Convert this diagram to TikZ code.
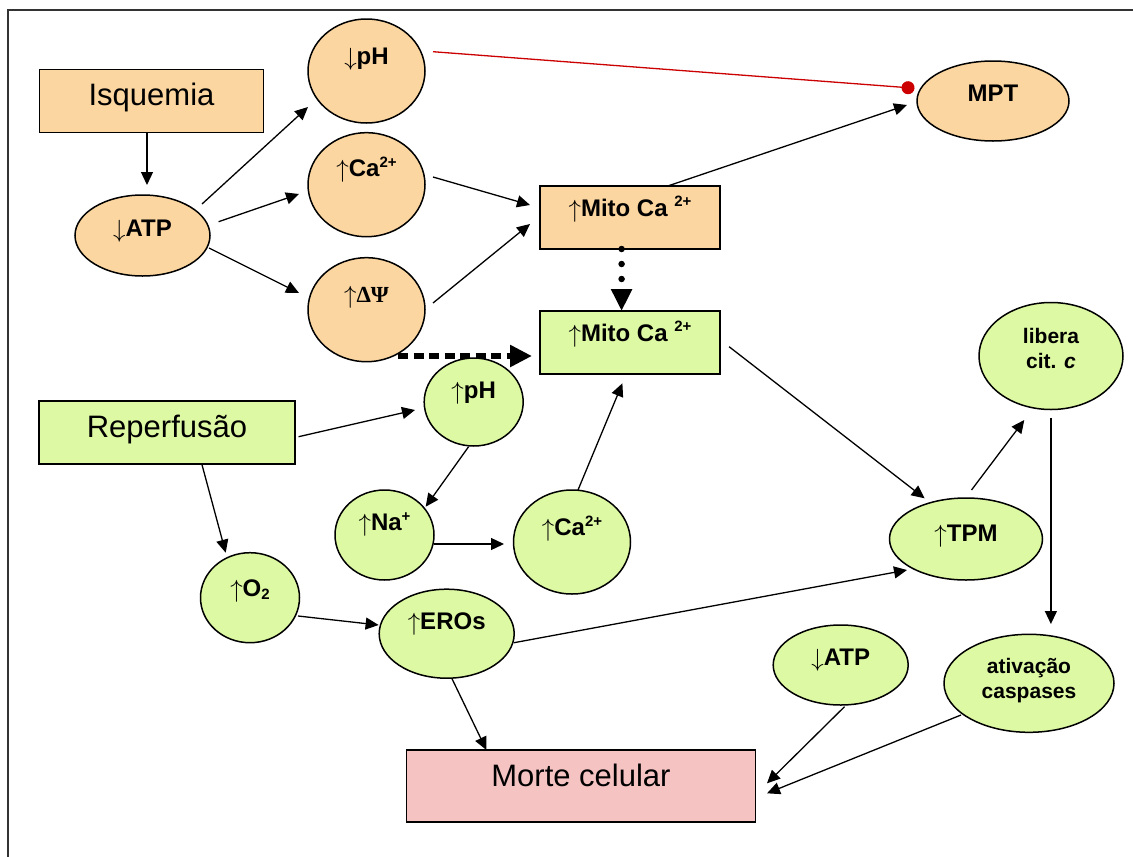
\documentclass[tikz,border=0pt]{standalone}
\usepackage{fontspec}
\setmainfont{Liberation Sans}
\newfontfamily\grfont{Liberation Serif}
\usetikzlibrary{shapes.geometric,arrows.meta,calc}
\definecolor{orng}{HTML}{FBD6A0}
\definecolor{lgreen}{HTML}{DDF9A3}
\definecolor{pinkc}{HTML}{F6C3C3}
\definecolor{redl}{HTML}{CC0000}
\newcommand\lft[2]{\raisebox{#1}[0pt][0pt]{#2}}
\newcommand\sups[1]{\raisebox{9pt}{\fontsize{15}{15}\selectfont #1}}
\newcommand\msups[1]{\raisebox{10pt}{\fontsize{15}{15}\selectfont #1}}
\newcommand\subs[1]{\raisebox{-3pt}{\fontsize{15}{15}\selectfont #1}}
\newcommand\ua{\raisebox{-1pt}{$\uparrow$}}
\newcommand\da{\raisebox{-1pt}{$\downarrow$}}
\begin{document}
\begin{tikzpicture}[x=1pt,y=-1pt,
  shp/.style={draw=black, line width=1.5pt, inner sep=0pt, text=black},
  rbox/.style={shp, rectangle, font=\fontsize{31}{36}\selectfont},
  bbox/.style={shp, rectangle, font=\bfseries\fontsize{24}{28}\selectfont},
  ell/.style={shp, ellipse, font=\bfseries\fontsize{24}{28}\selectfont},
  sml/.style={font=\bfseries\fontsize{21}{25}\selectfont},
  conn/.style={line width=1.3pt, -{Triangle[length=13pt,width=12pt]}},
]
\useasboundingbox (0,0) rectangle (1133,857);
\fill[white] (0,0) rectangle (1133,857);
\draw[line width=1.6pt, draw=black!80] (8,870) -- (8,10) -- (1145,10);

% nodes
\node[rbox, fill=orng, minimum width=224pt, minimum height=63pt] (isq) at (151.5,101) {\lft{-4pt}{Isquemia}};
\node[ell, fill=orng, minimum width=135pt, minimum height=81pt] (atpO) at (142.5,235.5) {\lft{-1pt}{\da ATP}};
\node[ell, fill=orng, minimum width=117pt, minimum height=104pt] (phO) at (366.5,71) {\lft{7pt}{\da pH}};
\node[ell, fill=orng, minimum width=117pt, minimum height=104pt] (caO) at (366.5,184.7) {\lft{8pt}{\ua Ca\sups{2+}}};
\node[ell, fill=orng, minimum width=117pt, minimum height=104pt] (dpsi) at (366.5,309.7) {\lft{7pt}{\ua{\grfont\bfseries\fontsize{23}{28}\selectfont ΔΨ}}};
\node[bbox, fill=orng, minimum width=180pt, minimum height=63pt] (mitoO) at (630,217.5) {\lft{1pt}{\ua Mito Ca \msups{2+}}};
\node[bbox, fill=lgreen, minimum width=180pt, minimum height=63pt] (mitoG) at (630,342.5) {\lft{1pt}{\ua Mito Ca \msups{2+}}};
\node[ell, fill=orng, minimum width=152pt, minimum height=80pt] (mpt) at (993,101) {\lft{0pt}{MPT}};
\node[rbox, fill=lgreen, minimum width=256pt, minimum height=63pt] (rep) at (167,432.4) {\lft{-5pt}{Reperfusão}};
\node[ell, fill=lgreen, minimum width=99pt, minimum height=88pt] (phG) at (473.7,402) {\lft{3.5pt}{\ua pH}};
\node[ell, fill=lgreen, minimum width=99pt, minimum height=90pt] (naG) at (384.5,535) {\lft{4.5pt}{\ua Na\sups{+}}};
\node[ell, fill=lgreen, minimum width=117pt, minimum height=104pt] (caG) at (572,542) {\lft{7pt}{\ua Ca\sups{2+}}};
\node[ell, fill=lgreen, minimum width=99pt, minimum height=90pt] (o2) at (250,597.7) {\lft{1pt}{\ua O\subs{2}}};
\node[ell, fill=lgreen, minimum width=135pt, minimum height=89pt] (eros) at (446.7,633.7) {\lft{4.5pt}{\ua EROs}};
\node[rbox, fill=pinkc, minimum width=349pt, minimum height=72pt] (morte) at (581,786) {\lft{0pt}{Morte celular}};
\node[ell, fill=lgreen, minimum width=153pt, minimum height=82pt] (tpm) at (966,539) {\lft{-2pt}{\ua TPM}};
\node[ell, sml, fill=lgreen, minimum width=144pt, minimum height=107pt] (lib) at (1051,356) {\lft{0pt}{\begin{tabular}{@{}c@{}}libera\\cit. \textit{c}\end{tabular}}};
\node[ell, sml, fill=lgreen, minimum width=170pt, minimum height=98pt] (casp) at (1029,683.3) {\lft{-3pt}{\begin{tabular}{@{}c@{}}ativação\\caspases\end{tabular}}};
\node[ell, fill=lgreen, minimum width=135pt, minimum height=80pt] (atpG) at (840.7,665) {\lft{0pt}{\da ATP}};

% connectors
\draw[conn] ($(isq)+(-4.5,31.7)$) -- ($(atpO)+(4.5,-50.5)$);
\draw[conn] ($(atpO)+(59.5,-31.5)$) -- ($(phO)+(-58.5,36)$);
\draw[conn] ($(atpO)+(76.1,-13.8)$) -- ($(caO)+(-67.5,9.3)$);
\draw[conn] ($(atpO)+(66.5,12.5)$) -- ($(dpsi)+(-67.5,-16.7)$);
\draw[conn] ($(caO)+(66.5,-7.7)$) -- ($(mitoO)+(-100,-12.5)$);
\draw[conn] ($(dpsi)+(66.5,-6.7)$) -- ($(mitoO)+(-100,6.5)$);
\draw[conn] ($(mitoO)+(37.8,-31.5)$) -- ($(mpt)+(-86,4)$);
\draw[redl, line width=1.3pt, -{Circle[length=13pt,width=13pt]}] ($(phO)+(66.5,-19.3)$) -- ($(mpt)+(-78.5,-12.8)$);
\draw[line width=6.5pt, line cap=round, dash pattern=on 0pt off 15pt, -{Triangle[length=22pt,width=20pt]}] ($(mitoO)+(-8.4,31.5)$) -- ($(mitoG)+(-8.4,-31.5)$);
\draw[line width=6pt, dash pattern=on 10pt off 5.5pt, -{Triangle[length=22pt,width=21pt]}] ($(dpsi)+(31.5,46.3)$) -- ($(mitoG)+(-98,13.5)$);
\draw[conn] ($(rep)+(131.6,4.3)$) -- ($(phG)+(-58.7,8)$);
\draw[conn] ($(phG)+(-5.1,44.7)$) -- ($(naG)+(41.2,-28.3)$);
\draw[conn] ($(naG)+(49.5,9)$) -- ($(caG)+(-68,2)$);
\draw[conn] ($(caG)+(6,-52)$) -- ($(mitoG)+(-7.6,40.8)$);
\draw[conn] ($(rep)+(34.8,31.6)$) -- ($(o2)+(-24.3,-45)$);
\draw[conn] ($(o2)+(48,18.3)$) -- ($(eros)+(-68.1,-8.7)$);
\draw[conn] ($(eros)+(5.1,44.6)$) -- ($(morte)+(-94.6,-36)$);
\draw[conn] ($(eros)+(67.3,9)$) -- ($(tpm)+(-59,31)$);
\draw[conn] ($(mitoG)+(99.1,4.2)$) -- ($(tpm)+(-41.4,-40.7)$);
\draw[conn] ($(tpm)+(5.5,-49)$) -- ($(lib)+(-26.7,64)$);
\draw[conn] ($(lib)+(-0.1,62.3)$) -- ($(casp)+(21.9,-59.3)$);
\draw[conn] ($(atpG)+(3.8,41.7)$) -- ($(morte)+(186,-2.7)$);
\draw[conn] ($(casp)+(-68,31.7)$) -- ($(morte)+(186,7.3)$);
\end{tikzpicture}
\end{document}
